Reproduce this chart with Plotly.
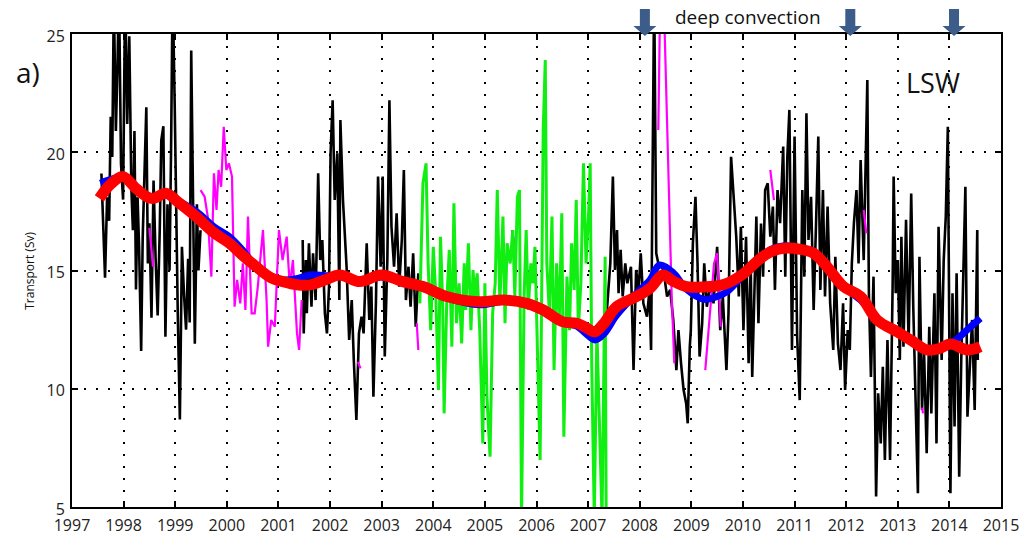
import plotly.graph_objects as go

# ---- LSW transport time series (Sv) ----
# black: moored-array record, segment 1
blk1_t = [1997.57, 1997.60, 1997.64, 1997.68, 1997.72, 1997.75, 1997.78, 1997.81, 1997.85, 1997.88,
          1997.91, 1997.95, 1997.99, 1998.03, 1998.07, 1998.11, 1998.15, 1998.18, 1998.21, 1998.24,
          1998.27, 1998.30, 1998.34, 1998.37, 1998.41, 1998.44, 1998.47, 1998.50, 1998.54, 1998.58,
          1998.62, 1998.66, 1998.70, 1998.73, 1998.77, 1998.81, 1998.85, 1998.89, 1998.92, 1998.95,
          1998.99, 1999.02, 1999.05, 1999.09, 1999.13, 1999.17, 1999.21, 1999.25, 1999.28, 1999.31,
          1999.34, 1999.38, 1999.42, 1999.45, 1999.49]
blk1_v = [19.1, 17.5, 14.7, 18.1, 17.1, 21.5, 19.8, 26.5, 20.9, 23.5,
          27.0, 19.5, 18.0, 27.0, 21.2, 24.9, 18.5, 16.7, 20.9, 14.2,
          18.1, 16.0, 11.6, 16.4, 19.5, 21.9, 15.3, 17.0, 13.0, 18.8,
          15.5, 13.1, 16.7, 20.5, 21.1, 12.2, 17.8, 15.0, 20.2, 27.0,
          22.0, 16.7, 13.1, 8.7, 16.0, 14.0, 12.5, 15.5, 12.8, 24.3,
          17.8, 11.9, 17.8, 15.0, 16.7]

# black, segment 2
blk2_t = [2001.47, 2001.49, 2001.53, 2001.55, 2001.59, 2001.64, 2001.67, 2001.72, 2001.77, 2001.81,
          2001.85, 2001.90, 2001.94, 2001.98, 2002.01, 2002.05, 2002.09, 2002.14, 2002.18, 2002.20,
          2002.25, 2002.32, 2002.37, 2002.42, 2002.46, 2002.51, 2002.56, 2002.61, 2002.65, 2002.71,
          2002.76, 2002.80, 2002.84, 2002.89, 2002.93, 2002.98, 2003.02, 2003.06, 2003.11, 2003.15,
          2003.19, 2003.24, 2003.29, 2003.34, 2003.39, 2003.43, 2003.47, 2003.52, 2003.56, 2003.61,
          2003.66, 2003.71]
blk2_v = [16.29, 12.34, 15.44, 13.19, 16.15, 13.47, 15.73, 13.75, 19.11, 15.44,
          16.29, 13.19, 12.34, 14.32, 19.96, 22.2, 17.98, 19.96, 13.75, 21.36,
          17.98, 15.16, 12.06, 13.75, 11.22, 8.68, 12.34, 13.05, 12.34, 16.15,
          12.91, 14.32, 9.66, 13.75, 18.97, 15.16, 18.97, 11.36, 15.44, 22.2,
          16.85, 15.16, 17.42, 14.32, 16.29, 19.25, 13.75, 15.16, 13.47, 15.73,
          12.62, 14.88]

# black, segment 3
blk3_t = [2007.36, 2007.43, 2007.48, 2007.52, 2007.56, 2007.59, 2007.63, 2007.67, 2007.72, 2007.76,
          2007.83, 2007.88, 2007.93, 2007.98, 2008.02, 2008.07, 2008.14, 2008.19, 2008.22, 2008.25,
          2008.28, 2008.32, 2008.36, 2008.46, 2008.53, 2008.59, 2008.65, 2008.71, 2008.75, 2008.80,
          2008.85, 2008.90, 2008.93, 2008.97, 2008.99, 2009.03, 2009.08, 2009.12, 2009.16, 2009.21,
          2009.25, 2009.30, 2009.37, 2009.43, 2009.50, 2009.56, 2009.61, 2009.68, 2009.72, 2009.77,
          2009.82, 2009.87, 2009.92, 2009.96, 2010.01, 2010.06, 2010.11, 2010.15, 2010.18, 2010.22,
          2010.26, 2010.30, 2010.35, 2010.39, 2010.43, 2010.48, 2010.53, 2010.58, 2010.62, 2010.67,
          2010.72, 2010.78, 2010.82, 2010.86, 2010.90, 2010.95, 2011.00, 2011.05, 2011.10, 2011.15,
          2011.19, 2011.23, 2011.27, 2011.32, 2011.37, 2011.42, 2011.46, 2011.50, 2011.55, 2011.59,
          2011.64, 2011.69, 2011.75, 2011.79, 2011.84, 2011.89, 2011.94, 2011.98, 2012.03, 2012.07,
          2012.11, 2012.15, 2012.20, 2012.24, 2012.28, 2012.34, 2012.41, 2012.44, 2012.48, 2012.53,
          2012.58, 2012.62, 2012.67, 2012.71, 2012.75, 2012.80, 2012.85, 2012.90, 2012.92, 2012.96,
          2013.00, 2013.04, 2013.07, 2013.11, 2013.16, 2013.21, 2013.26, 2013.30, 2013.34, 2013.39,
          2013.42, 2013.47, 2013.51, 2013.56, 2013.61, 2013.65, 2013.71, 2013.75, 2013.79, 2013.85,
          2013.89, 2013.93, 2013.97, 2014.02, 2014.06, 2014.10, 2014.14, 2014.19, 2014.23, 2014.27,
          2014.31, 2014.35, 2014.40, 2014.44, 2014.49, 2014.54, 2014.55]
blk3_v = [13.19, 15.3, 18.97, 15.02, 16.71, 14.04, 15.87, 13.9, 15.3, 14.46,
          15.16, 10.79, 15.02, 14.18, 15.73, 13.61, 13.05, 14.18, 11.64, 20.94,
          27.0, 15.73, 15.3, 15.02, 13.9, 14.18, 12.91, 10.79, 12.48, 11.08,
          9.95, 9.38, 8.54, 11.78, 12.48, 16.15, 18.12, 15.3, 11.36, 12.77,
          15.3, 13.47, 14.46, 13.61, 16.0, 12.48, 13.9, 10.79, 13.19, 19.81,
          18.12, 16.43, 13.9, 16.85, 12.48, 16.43, 11.08, 15.3, 10.5, 14.18,
          17.28, 12.77, 16.99, 14.74, 18.4, 18.69, 16.43, 17.7, 14.18, 18.4,
          17.0, 20.24, 14.74, 19.81, 21.79, 11.64, 20.66, 12.2, 9.52, 18.4,
          14.74, 21.65, 16.29, 18.12, 13.33, 17.28, 20.66, 14.18, 18.4, 13.9,
          17.7, 13.61, 11.64, 15.58, 11.92, 10.79, 13.61, 9.95, 12.48, 11.64,
          15.3, 16.99, 18.4, 15.3, 19.67, 15.44, 23.05, 14.04, 10.5, 14.74,
          5.44, 9.81, 7.69, 10.93, 6.99, 12.06, 6.99, 14.32, 18.97, 14.04,
          15.44, 11.22, 16.43, 11.78, 17.14, 11.92, 18.26, 13.47, 9.81, 5.58,
          15.58, 9.1, 11.5, 7.27, 12.62, 8.96, 14.04, 7.69, 16.85, 11.22,
          15.44, 17.28, 21.08, 5.58, 14.04, 8.4, 14.88, 6.28, 11.22, 15.44,
          18.54, 8.82, 11.22, 12.91, 9.1, 16.71, 11.22]

# magenta: gap-filled pieces
mag1_t = [1998.50, 1998.57]
mag1_v = [16.8, 15.16]
mag2_t = [1999.49, 1999.57, 1999.63, 1999.70, 1999.75, 1999.80, 1999.84, 1999.89, 1999.94, 1999.99,
          2000.04, 2000.10, 2000.15, 2000.20, 2000.26, 2000.31, 2000.36, 2000.41, 2000.48, 2000.54,
          2000.60, 2000.70, 2000.77, 2000.80, 2000.86, 2000.93, 2001.01, 2001.08, 2001.16, 2001.22,
          2001.28, 2001.36, 2001.40, 2001.45]
mag2_v = [18.4, 18.12, 17.28, 14.74, 19.11, 17.56, 19.25, 18.54, 21.08, 19.25,
          19.53, 18.97, 13.47, 14.6, 13.61, 15.3, 13.33, 17.28, 13.19, 13.19,
          14.32, 16.71, 13.75, 11.78, 12.91, 12.62, 16.71, 15.44, 16.43, 14.32,
          15.44, 12.34, 11.64, 13.75]
mag3_t = [2002.54, 2002.59]
mag3_v = [11.14, 10.86]
mag4_t = [2003.68, 2003.71]
mag4_v = [12.77, 11.64]
mag5_t = [2005.52, 2005.58]
mag5_v = [16.71, 16.15]
mag6_t = [2008.36, 2008.40, 2008.46, 2008.56, 2008.62, 2008.67]
mag6_v = [20.94, 27.0, 27.0, 18.12, 13.9, 11.08]
mag7_t = [2009.27, 2009.37, 2009.44, 2009.50, 2009.57]
mag7_v = [10.79, 13.61, 15.3, 15.73, 12.62]
mag8_t = [2010.53, 2010.60]
mag8_v = [19.25, 17.98]
mag9_t = [2012.34, 2012.39]
mag9_v = [17.56, 16.57]
mag10_t = [2013.47, 2013.49]
mag10_v = [9.2, 8.96]

# green: 2003-2007 record
grn_t = [2003.74, 2003.80, 2003.86, 2003.90, 2003.95, 2004.00, 2004.05, 2004.10, 2004.14, 2004.18,
         2004.21, 2004.26, 2004.31, 2004.36, 2004.40, 2004.45, 2004.50, 2004.55, 2004.60, 2004.63,
         2004.68, 2004.73, 2004.77, 2004.81, 2004.85, 2004.90, 2004.96, 2005.00, 2005.04, 2005.10,
         2005.15, 2005.20, 2005.24, 2005.29, 2005.35, 2005.39, 2005.43, 2005.49, 2005.54, 2005.58,
         2005.63, 2005.67, 2005.71, 2005.76, 2005.80, 2005.84, 2005.89, 2005.93, 2005.97, 2006.02,
         2006.07, 2006.10, 2006.13, 2006.17, 2006.20, 2006.25, 2006.30, 2006.34, 2006.39, 2006.44,
         2006.49, 2006.53, 2006.59, 2006.64, 2006.68, 2006.73, 2006.77, 2006.81, 2006.86, 2006.91,
         2006.96, 2007.01, 2007.04, 2007.07, 2007.12, 2007.17, 2007.22, 2007.27, 2007.33, 2007.35]
grn_v = [13.61, 18.69, 19.53, 15.3, 12.48, 16.0, 13.9, 9.95, 16.43, 13.75,
         8.96, 13.61, 15.87, 11.78, 17.84, 12.77, 14.46, 11.92, 15.3, 13.33,
         16.15, 12.48, 15.02, 13.9, 14.88, 12.48, 7.69, 14.46, 9.66, 7.13,
         13.19, 14.46, 18.4, 13.61, 17.28, 12.77, 16.15, 15.3, 16.71, 13.9,
         18.12, 18.4, 4.5, 13.9, 16.71, 13.33, 15.3, 14.46, 16.0, 11.08,
         6.99, 13.9, 20.94, 23.9, 15.3, 13.19, 17.28, 10.79, 15.3, 12.77,
         17.42, 7.97, 14.74, 12.48, 16.15, 14.18, 17.98, 12.48, 14.46, 19.53,
         15.3, 17.42, 19.53, 11.08, 4.5, 12.48, 8.54, 4.5, 15.58, 4.5]

# blue: low-pass of full record
blue_t = [1997.55, 1997.75, 1997.99, 1998.25, 1998.54, 1998.83, 1999.05, 1999.41, 1999.75, 2000.05,
          2000.30, 2000.57, 2000.85, 2001.09, 2001.35, 2001.61, 2001.90, 2002.19, 2002.58, 2002.99,
          2003.41, 2003.80, 2004.26, 2004.90, 2005.36, 2005.81, 2006.13, 2006.50, 2006.78, 2006.95,
          2007.13, 2007.30, 2007.55, 2007.94, 2008.20, 2008.38, 2008.65, 2008.91, 2009.25, 2009.50,
          2009.69, 2010.02, 2010.30, 2010.55, 2010.80, 2011.10, 2011.37, 2011.63, 2011.95, 2012.28,
          2012.60, 2012.99, 2013.25, 2013.57, 2013.80, 2014.02, 2014.20, 2014.40, 2014.60]
blue_v = [18.69, 18.85, 18.95, 18.45, 18.1, 18.2, 17.95, 17.49, 16.85, 16.43,
          15.87, 15.16, 14.75, 14.6, 14.65, 14.81, 14.78, 14.75, 14.5, 14.72,
          14.5, 14.3, 13.85, 13.55, 13.7, 13.6, 13.35, 12.8, 12.65, 12.35,
          12.06, 12.3, 13.1, 14.04, 14.6, 15.23, 14.9, 14.2, 13.78, 13.9,
          14.1, 14.85, 15.5, 15.9, 16.05, 15.95, 15.75, 15.1, 14.3, 13.75,
          12.95, 12.45, 12.06, 11.64, 11.72, 11.92, 12.2, 12.6, 12.98]

# red: low-pass of merged record
red_t = [1997.53, 1997.75, 1997.99, 1998.25, 1998.54, 1998.83, 1999.05, 1999.41, 1999.75, 2000.05,
         2000.30, 2000.57, 2000.85, 2001.09, 2001.35, 2001.61, 2001.90, 2002.19, 2002.58, 2002.99,
         2003.41, 2003.80, 2004.26, 2004.90, 2005.36, 2005.81, 2006.13, 2006.50, 2006.78, 2006.95,
         2007.13, 2007.30, 2007.55, 2007.94, 2008.20, 2008.45, 2008.65, 2008.91, 2009.37, 2009.69,
         2010.02, 2010.30, 2010.55, 2010.80, 2011.10, 2011.37, 2011.63, 2011.95, 2012.28, 2012.60,
         2012.99, 2013.25, 2013.57, 2013.80, 2014.02, 2014.35, 2014.60]
red_v = [18.05, 18.65, 18.97, 18.45, 18.05, 18.26, 17.9, 17.27, 16.6, 16.15,
         15.65, 15.16, 14.7, 14.53, 14.4, 14.39, 14.6, 14.81, 14.53, 14.81,
         14.53, 14.32, 13.9, 13.68, 13.75, 13.61, 13.33, 12.84, 12.77, 12.6,
         12.41, 12.75, 13.47, 13.9, 14.25, 14.81, 14.55, 14.32, 14.32, 14.46,
         14.88, 15.44, 15.8, 15.94, 15.9, 15.73, 15.16, 14.32, 13.9, 12.91,
         12.41, 12.06, 11.64, 11.7, 11.89, 11.64, 11.78]

# deep-convection winters
convection_years = [2008.1, 2012.08, 2014.09]

year_ticks = list(range(1997, 2016))
sv_ticks = [5, 10, 15, 20, 25]

FONT = "Open Sans"

fig = go.Figure()


def add_line(t, v, color, width, shape="linear"):
    fig.add_trace(go.Scatter(x=t, y=v, mode="lines", showlegend=False, hoverinfo="skip",
                             line=dict(color=color, width=width, shape=shape)))


for t, v in [(blk1_t, blk1_v), (blk2_t, blk2_v), (blk3_t, blk3_v)]:
    add_line(t, v, "#000000", 2.6)
for t, v in [(mag1_t, mag1_v), (mag2_t, mag2_v), (mag3_t, mag3_v), (mag4_t, mag4_v),
             (mag5_t, mag5_v), (mag6_t, mag6_v), (mag7_t, mag7_v), (mag8_t, mag8_v),
             (mag9_t, mag9_v), (mag10_t, mag10_v)]:
    add_line(t, v, "#ff00ff", 2.2)
add_line(grn_t, grn_v, "#11ee11", 3)
add_line(blue_t, blue_v, "#0000ff", 7, "spline")
add_line(red_t, red_v, "#ff0000", 11, "spline")

# down arrows marking convection years, drawn above the frame
arrow_path = "M -5,25 L 5,25 L 5,8 L 11.5,8 L 0,-2 L -11.5,8 L -5,8 Z"
for yr in convection_years:
    fig.add_shape(type="path", xref="x", yref="paper", xsizemode="pixel", ysizemode="pixel",
                  xanchor=yr, yanchor=1, path=arrow_path,
                  fillcolor="#3c5d8a", line=dict(width=0), layer="above")

fig.add_annotation(x=2010.1, y=1.036, xref="x", yref="paper", text="deep convection",
                   xanchor="center", yanchor="middle",
                   showarrow=False, font=dict(family=FONT, size=19, color="#111"))
fig.add_annotation(x=2013.69, y=22.93, xref="x", yref="y", text="LSW",
                   xanchor="center", yanchor="middle",
                   showarrow=False, font=dict(family=FONT, size=27, color="#111"))
fig.add_annotation(x=-0.047, y=0.92, xref="paper", yref="paper", text="a)",
                   xanchor="center", yanchor="middle",
                   showarrow=False, font=dict(family=FONT, size=28, color="#111"))
fig.add_annotation(x=-0.046, y=0.5, xref="paper", yref="paper", text="Transport (Sv)",
                   xanchor="center", yanchor="middle", textangle=-90,
                   showarrow=False, font=dict(family=FONT, size=12, color="#111"))

axis_common = dict(showline=True, linecolor="black", linewidth=2, mirror="ticks",
                   ticks="inside", ticklen=6, tickwidth=2, tickcolor="black",
                   showgrid=True, gridcolor="black", gridwidth=2, griddash="2px,10px",
                   zeroline=False, automargin=False,
                   tickfont=dict(family=FONT, size=16, color="#222"))

fig.update_xaxes(range=[1997, 2015], tickvals=year_ticks, ticklabelstandoff=3,
                 ticktext=[str(y) for y in year_ticks], **axis_common)
fig.update_yaxes(range=[5, 25], tickvals=sv_ticks, ticklabelstandoff=2, ticklabelshift=2,
                 ticktext=[str(s) for s in sv_ticks], **axis_common)

fig.update_layout(width=1023, height=535, margin=dict(l=72, r=22, t=34, b=28),
                  plot_bgcolor="white", paper_bgcolor="white", showlegend=False)

fig.write_html("out.html")
